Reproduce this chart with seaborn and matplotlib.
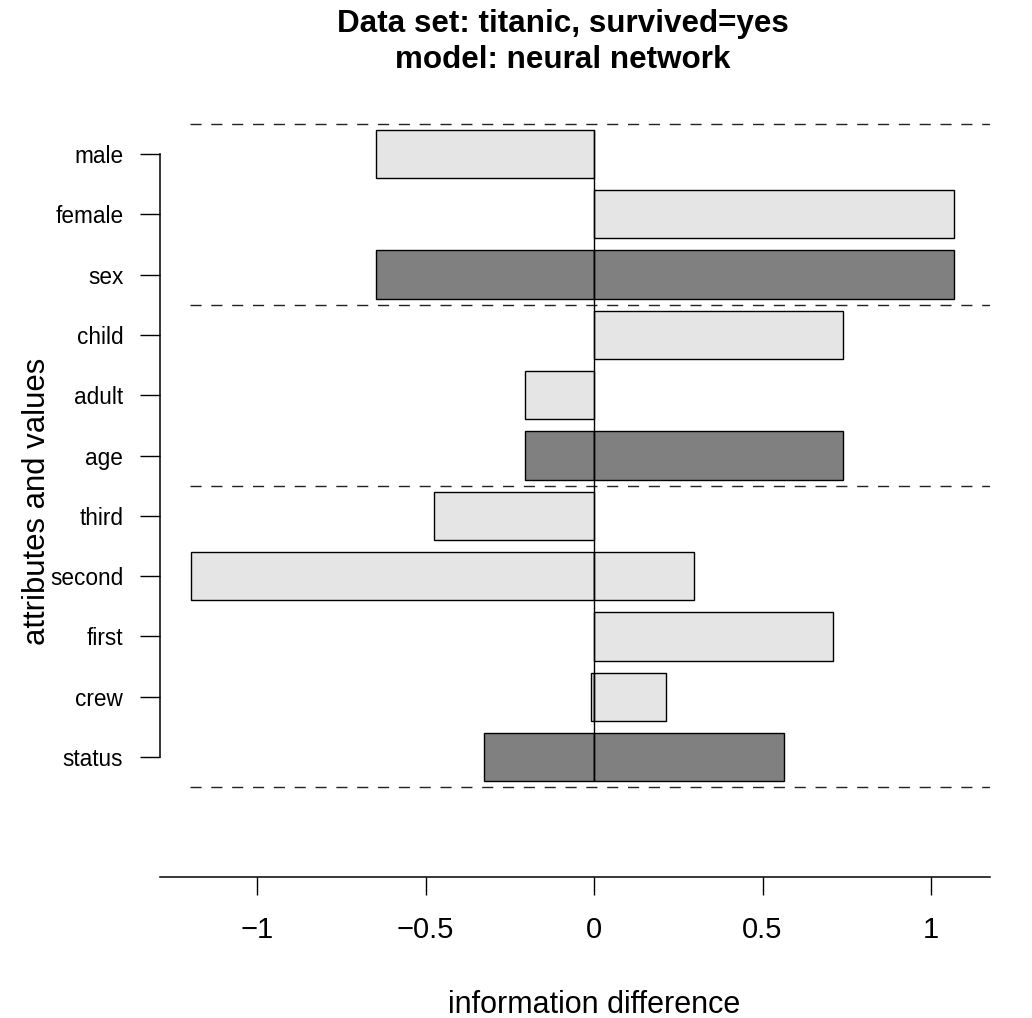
import numpy as np
import pandas as pd
import matplotlib
matplotlib.use("Agg")
import matplotlib.pyplot as plt
import seaborn as sns

# ---- data ----
labels = ["male", "female", "sex", "child", "adult", "age",
          "third", "second", "first", "crew", "status"]
kinds = ["value", "value", "attribute", "value", "value", "attribute",
         "value", "value", "value", "value", "attribute"]
neg_part = [-0.647, 0.0, -0.647, 0.0, -0.205, -0.205, -0.475, -1.196, 0.0, -0.010, -0.326]
pos_part = [0.0, 1.068, 1.068, 0.739, 0.0, 0.739, 0.0, 0.297, 0.709, 0.214, 0.564]
xticks = [-1, -0.5, 0, 0.5, 1]
xticklabels = ["\u22121", "\u22120.5", "0", "0.5", "1"]
title_lines = ["Data set: titanic, survived=yes", "model: neural network"]
xlabel = "information difference"
ylabel = "attributes and values"

sns.set_style("white")
plt.rcParams["font.family"] = ["Liberation Sans", "DejaVu Sans"]
plt.rcParams["text.color"] = "black"
plt.rcParams["axes.labelcolor"] = "black"
plt.rcParams["xtick.color"] = "black"
plt.rcParams["ytick.color"] = "black"
plt.rcParams["axes.edgecolor"] = "black"

fig = plt.figure(figsize=(10.32, 10.18), dpi=100)
ax = fig.add_axes([160 / 1032, 1 - 877 / 1018, 830 / 1032, (877 - 94) / 1018])

pal = {"value": "#E5E5E5", "attribute": "#808080"}
for part in (neg_part, pos_part):
    df = pd.DataFrame({"label": labels, "value": part, "kind": kinds})
    df = df[df["value"] != 0]
    sns.barplot(data=df, x="value", y="label", hue="kind", palette=pal, order=labels,
                hue_order=["value", "attribute"], dodge=False, width=0.8, saturation=1,
                edgecolor="black", linewidth=1.0, errorbar=None, legend=False,
                orient="h", ax=ax)

# zero line across all rows
ax.plot([0, 0], [-0.4, len(labels) - 1 + 0.4], color="black", lw=1.0, zorder=5)

# group separators (above first row and after each attribute row)
breaks = [-0.5] + [i + 0.5 for i, k in enumerate(kinds) if k == "attribute"]
ax.hlines(breaks, -1.199, 1.175, colors="#222222", linewidth=1.0,
          linestyles=(0, (8, 7)), zorder=1)

ax.set_xlim(-1.288, 1.175)
ax.set_ylim(11.99, -0.995)

for s in ["top", "right"]:
    ax.spines[s].set_visible(False)
ax.spines["left"].set_bounds(0, len(labels) - 1)
ax.spines["left"].set_linewidth(1.1)
ax.spines["bottom"].set_linewidth(1.1)

ax.set_xticks(xticks)
ax.set_xticklabels(xticklabels, fontsize=21)
ax.set_yticks(range(len(labels)))
ax.set_yticklabels(labels, fontsize=16.3)
ax.tick_params(axis="x", direction="out", length=13, width=1.0, pad=15, bottom=True)
ax.tick_params(axis="y", direction="out", length=14.4, width=1.0, pad=12, left=True)

ax.set_xlabel("")
ax.set_ylabel("")
fig.text(594 / 1032, 1 - 1013 / 1018, xlabel, ha="center", va="baseline", fontsize=22)
fig.text(45 / 1032, 1 - 501 / 1018, ylabel, ha="center", va="baseline", rotation=90,
         rotation_mode="anchor", fontsize=22.4)

fig.text(563 / 1032, 1 - 32 / 1018, title_lines[0], ha="center", va="baseline",
         fontsize=22.6, fontweight="bold")
fig.text(563 / 1032, 1 - 68 / 1018, title_lines[1], ha="center", va="baseline",
         fontsize=22.6, fontweight="bold")

fig.savefig("out.png", dpi=100, facecolor="white")
